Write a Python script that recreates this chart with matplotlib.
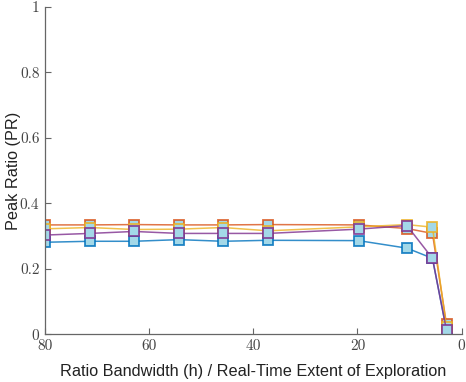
import matplotlib
matplotlib.use('Agg')
import matplotlib.pyplot as plt
from matplotlib.colors import to_rgba

# x positions (ratio bandwidth / real-time extent)
x = [80, 71.4, 62.9, 54.3, 45.8, 37.2, 19.8, 10.5, 5.6, 2.9]

# peak ratio per series (MATLAB default colour order)
pr_blue = [0.281, 0.284, 0.284, 0.289, 0.284, 0.287, 0.286, 0.263, 0.232, 0.012]
pr_orange = [0.334, 0.334, 0.335, 0.334, 0.334, 0.335, 0.334, 0.323, 0.308, 0.030]
pr_yellow = [0.322, 0.326, 0.320, 0.321, 0.326, 0.316, 0.328, 0.335, 0.327, 0.022]
pr_purple = [0.303, 0.308, 0.314, 0.308, 0.308, 0.308, 0.321, 0.332, 0.232, 0.012]

series = [pr_blue, pr_orange, pr_yellow, pr_purple]
colors = ['#0072BD', '#D95319', '#EDB120', '#7E2F8E']

fig = plt.figure(figsize=(4.66, 3.82), dpi=100)
ax = fig.add_axes([0.0966, 0.125, 0.894, 0.857])

for y, c in zip(series, colors):
    ax.plot(x, y, '-s', color=to_rgba(c, 0.8), lw=1.1, markersize=7,
            markerfacecolor='#a3d8e8', markeredgecolor=to_rgba(c, 0.85),
            markeredgewidth=1.3)

ax.set_xlim(80, 0)
ax.set_ylim(0, 1)
ax.set_xticks([80, 60, 40, 20, 0])
ax.set_yticks([0, 0.2, 0.4, 0.6, 0.8, 1])
ax.set_yticklabels(['0', '0.2', '0.4', '0.6', '0.8', '1'])

for s in ['top', 'right']:
    ax.spines[s].set_visible(False)
for s in ['left', 'bottom']:
    ax.spines[s].set_color('#666666')
    ax.spines[s].set_linewidth(0.9)

ax.tick_params(direction='in', length=4, color='#666666', labelcolor='#444444',
               labelsize=11)
ax.tick_params(axis='y', pad=4)
for lbl in ax.get_xticklabels() + ax.get_yticklabels():
    lbl.set_fontfamily('cmr10')

ax.set_xlabel('Ratio Bandwidth (h) / Real-Time Extent of Exploration',
              fontfamily='Liberation Sans', fontsize=11.7, color='#222222')
ax.set_ylabel('Peak Ratio (PR)', fontfamily='Liberation Sans', fontsize=11.7,
              color='#222222')
ax.yaxis.set_label_coords(-0.058, 0.5)
ax.xaxis.set_label_coords(0.5, -0.09)

fig.savefig('out.png', dpi=100)
